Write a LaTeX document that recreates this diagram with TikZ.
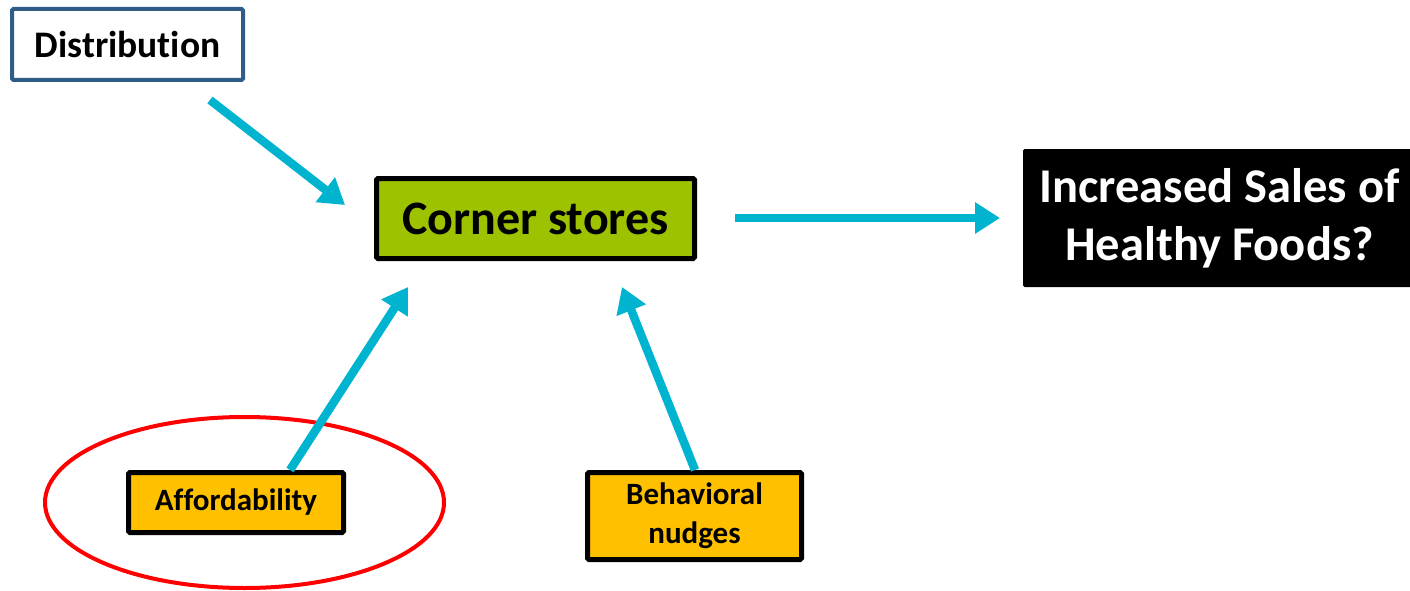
\documentclass[tikz,border=0pt]{standalone}
\usepackage{fontspec}
\setmainfont[Ligatures={NoCommon}]{Carlito}
\usetikzlibrary{arrows.meta}
\definecolor{distblue}{HTML}{2F5D87}
\definecolor{arrowcyan}{HTML}{00B4D0}
\definecolor{storegreen}{HTML}{9DC300}
\definecolor{boxorange}{HTML}{FFC000}
\definecolor{ringred}{HTML}{FF0000}
\tikzset{
  flow/.style={draw=arrowcyan, line width=8.5pt, -{Triangle[length=25pt,width=30pt]}},
  basebox/.style={rectangle, rounded corners=1.5pt, inner sep=0pt, align=center},
  distbox/.style={basebox, draw=distblue, line width=4pt, fill=white, font=\fontsize{37.5}{44}\selectfont\bfseries},
  storebox/.style={basebox, draw=black, line width=5pt, fill=storegreen, font=\fontsize{48}{58}\selectfont\bfseries},
  outbox/.style={basebox, fill=black, text=white, font=\fontsize{48.5}{58}\selectfont\bfseries},
  leverbox/.style={basebox, draw=black, line width=5pt, fill=boxorange, font=\fontsize{31}{39}\selectfont\bfseries},
  ring/.style={draw=ringred, line width=4pt}
}
\begin{document}
\begin{tikzpicture}[x=1pt,y=-1pt]
\useasboundingbox (0,0) rectangle (1410,591);
\draw[ring] (244.5,502.5) ellipse [x radius=199.5, y radius=85.5];
\node[distbox, minimum width=231pt, minimum height=71pt] (dist) at (127.5,44.5) {Distribution};
\node[storebox, minimum width=318pt, minimum height=80pt] (store) at (535.5,218.5) {Corner stores};
\node[outbox, minimum width=393pt, minimum height=138pt] (out) at (1219.5,218) {\raisebox{-3pt}{\parbox{380pt}{\centering Increased Sales of\\Healthy Foods?}}};
\node[leverbox, minimum width=215pt, minimum height=60pt] (aff) at (236,502.5) {\raisebox{-2pt}{Affordability}};
\node[leverbox, minimum width=214pt, minimum height=87pt] (nudge) at (694.5,516) {\raisebox{-3pt}{\parbox{200pt}{\centering Behavioral\\nudges}}};
\coordinate (d1) at (210,100);
\coordinate (d2) at (345,205);
\coordinate (a1) at (290,470);
\coordinate (a2) at (408,287);
\coordinate (n1) at (695,470);
\coordinate (n2) at (622,287);
\coordinate (s1) at (735,218);
\coordinate (s2) at (1000,218);
\draw[flow] (d1) -- (d2);
\draw[flow] (a1) -- (a2);
\draw[flow] (n1) -- (n2);
\draw[flow] (s1) -- (s2);
\end{tikzpicture}
\end{document}
